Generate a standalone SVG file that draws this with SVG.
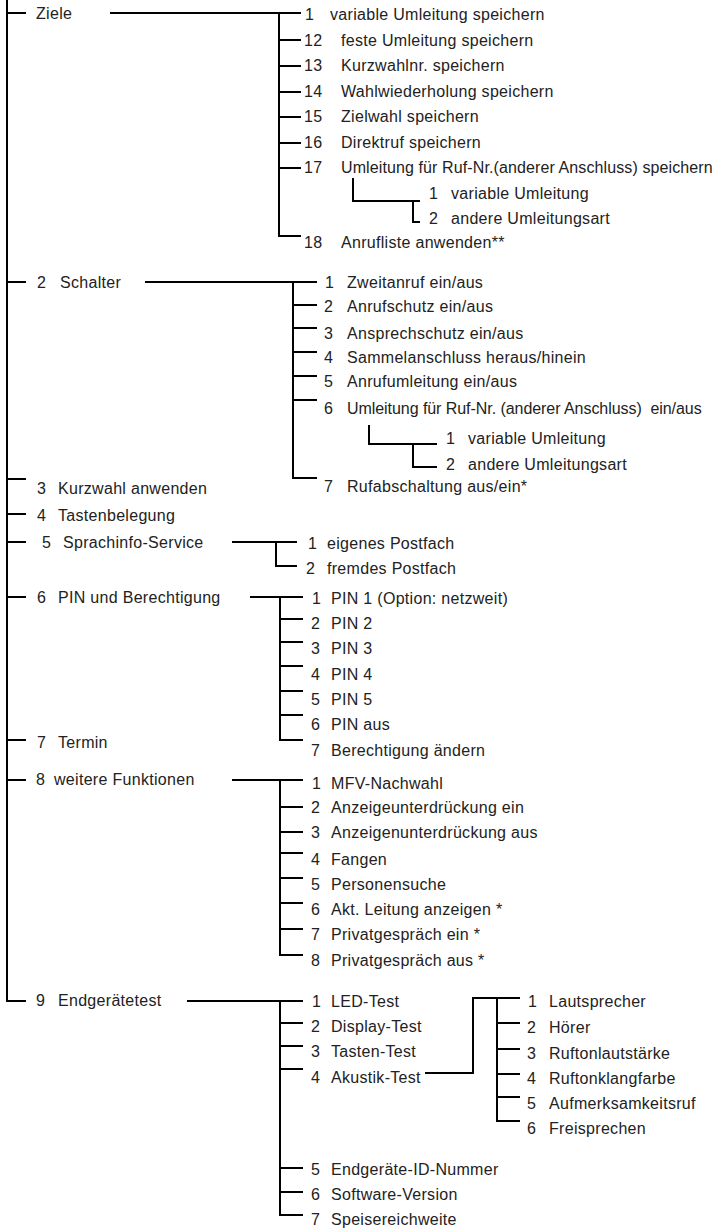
<svg xmlns="http://www.w3.org/2000/svg" width="726" height="1228" viewBox="0 0 726 1228">
<style>
text{font-family:"Liberation Sans",Arial,sans-serif;font-size:16px;letter-spacing:0.3px;fill:#222}
.c path{fill:none;stroke:#000;stroke-width:2;stroke-linejoin:miter}
</style>
<rect width="726" height="1228" fill="#fff"/>
<g class="c" id="connectors">
<path d="M7,0 V1001 H26 M7,13 H26 M7,282 H26 M7,479 H26 M7,514 H26 M7,542 H26 M7,597 H26 M7,740 H26 M7,780 H26"/>
<path d="M110,13 H301 M279,13 V236 H301 M279,40 H301 M279,66 H301 M279,92 H301 M279,117 H301 M279,143 H301 M279,168 H301"/>
<path d="M353,178 V201 H420 M413,201 V222 H420"/>
<path d="M145,282 H317 M293,282 V478 H317 M293,305 H317 M293,328 H317 M293,352 H317 M293,376 H317 M293,400 H317"/>
<path d="M369,425 V444 H437 M413,444 V467 H437"/>
<path d="M232,542 H297 M276,542 V566 H297"/>
<path d="M250,597 H303 M280,597 V740 H303 M280,619 H303 M280,642 H303 M280,666 H303 M280,691 H303 M280,715 H303"/>
<path d="M232,780 H303 M280,780 V955 H303 M280,807 H303 M280,832 H303 M280,853 H303 M280,878 H303 M280,903 H303 M280,929 H303"/>
<path d="M187,1001 H303 M280,1001 V1215 H303 M280,1023 H303 M280,1046 H303 M280,1069 H303 M280,1168 H303 M280,1192 H303"/>
<path d="M425,1073 H473 V998 H520 M497,998 V1121 H520 M497,1023 H520 M497,1049 H520 M497,1074 H520 M497,1097 H520"/>
</g>
<g id="n-ziele"><text x="36" y="18.5">Ziele</text></g>
<g id="n-ziele-1"><text x="305" y="19.5">1</text><text x="330" y="19.5">variable Umleitung speichern</text></g>
<g id="n-ziele-12"><text x="304" y="45.5">12</text><text x="341" y="45.5">feste Umleitung speichern</text></g>
<g id="n-ziele-13"><text x="304" y="71">13</text><text x="341" y="71">Kurzwahlnr. speichern</text></g>
<g id="n-ziele-14"><text x="304" y="96.5">14</text><text x="341" y="96.5">Wahlwiederholung speichern</text></g>
<g id="n-ziele-15"><text x="304" y="121.5">15</text><text x="341" y="121.5">Zielwahl speichern</text></g>
<g id="n-ziele-16"><text x="304" y="147.5">16</text><text x="341" y="147.5">Direktruf speichern</text></g>
<g id="n-ziele-17"><text x="304" y="173">17</text><text x="341" y="173" textLength="372" lengthAdjust="spacing">Umleitung für Ruf-Nr.(anderer Anschluss) speichern</text></g>
<g id="n-ziele-17-1"><text x="429" y="198.5">1</text><text x="451" y="198.5">variable Umleitung</text></g>
<g id="n-ziele-17-2"><text x="429" y="224">2</text><text x="451" y="224">andere Umleitungsart</text></g>
<g id="n-ziele-18"><text x="304" y="247.5">18</text><text x="341" y="247.5">Anrufliste anwenden**</text></g>

<g id="n-schalter"><text x="37" y="288">2</text><text x="60" y="288">Schalter</text></g>
<g id="n-schalter-1"><text x="325" y="288">1</text><text x="347" y="288">Zweitanruf ein/aus</text></g>
<g id="n-schalter-2"><text x="324" y="312">2</text><text x="347" y="312">Anrufschutz ein/aus</text></g>
<g id="n-schalter-3"><text x="324" y="339">3</text><text x="347" y="339">Ansprechschutz ein/aus</text></g>
<g id="n-schalter-4"><text x="324" y="363">4</text><text x="347" y="363">Sammelanschluss heraus/hinein</text></g>
<g id="n-schalter-5"><text x="324" y="387">5</text><text x="347" y="387">Anrufumleitung ein/aus</text></g>
<g id="n-schalter-6"><text x="324" y="414">6</text><text x="347" y="414" xml:space="preserve" textLength="355" lengthAdjust="spacing">Umleitung für Ruf-Nr. (anderer Anschluss)  ein/aus</text></g>
<g id="n-schalter-6-1"><text x="446" y="443.5">1</text><text x="468" y="443.5">variable Umleitung</text></g>
<g id="n-schalter-6-2"><text x="446" y="469.5">2</text><text x="468" y="469.5">andere Umleitungsart</text></g>
<g id="n-schalter-7"><text x="324" y="492">7</text><text x="347" y="492">Rufabschaltung aus/ein*</text></g>

<g id="n-kurzwahl"><text x="37" y="494">3</text><text x="58" y="494">Kurzwahl anwenden</text></g>
<g id="n-tasten"><text x="37" y="520.5">4</text><text x="58" y="520.5">Tastenbelegung</text></g>
<g id="n-sprach"><text x="42" y="548">5</text><text x="63" y="548">Sprachinfo-Service</text></g>
<g id="n-sprach-1"><text x="308" y="548.5">1</text><text x="327" y="548.5">eigenes Postfach</text></g>
<g id="n-sprach-2"><text x="306" y="573.5">2</text><text x="327" y="573.5">fremdes Postfach</text></g>

<g id="n-pin"><text x="37" y="603">6</text><text x="58" y="603">PIN und Berechtigung</text></g>
<g id="n-pin-1"><text x="312" y="604">1</text><text x="331" y="604">PIN 1 (Option: netzweit)</text></g>
<g id="n-pin-2"><text x="311" y="628.5">2</text><text x="331" y="628.5">PIN 2</text></g>
<g id="n-pin-3"><text x="311" y="653.5">3</text><text x="331" y="653.5">PIN 3</text></g>
<g id="n-pin-4"><text x="311" y="680">4</text><text x="331" y="680">PIN 4</text></g>
<g id="n-pin-5"><text x="311" y="705">5</text><text x="331" y="705">PIN 5</text></g>
<g id="n-pin-6"><text x="311" y="730">6</text><text x="331" y="730">PIN aus</text></g>
<g id="n-pin-7"><text x="311" y="756">7</text><text x="331" y="756">Berechtigung ändern</text></g>

<g id="n-termin"><text x="37" y="748">7</text><text x="58" y="748">Termin</text></g>
<g id="n-weitere"><text x="36" y="785">8</text><text x="54" y="785">weitere Funktionen</text></g>
<g id="n-weitere-1"><text x="312" y="788.5">1</text><text x="331" y="788.5">MFV-Nachwahl</text></g>
<g id="n-weitere-2"><text x="311" y="813">2</text><text x="331" y="813">Anzeigeunterdrückung ein</text></g>
<g id="n-weitere-3"><text x="311" y="837.5">3</text><text x="331" y="837.5">Anzeigenunterdrückung aus</text></g>
<g id="n-weitere-4"><text x="311" y="865">4</text><text x="331" y="865">Fangen</text></g>
<g id="n-weitere-5"><text x="311" y="889.5">5</text><text x="331" y="889.5">Personensuche</text></g>
<g id="n-weitere-6"><text x="311" y="915">6</text><text x="331" y="915">Akt. Leitung anzeigen *</text></g>
<g id="n-weitere-7"><text x="311" y="940">7</text><text x="331" y="940">Privatgespräch ein *</text></g>
<g id="n-weitere-8"><text x="311" y="966">8</text><text x="331" y="966">Privatgespräch aus *</text></g>

<g id="n-endgeraet"><text x="36" y="1006">9</text><text x="58" y="1006">Endgerätetest</text></g>
<g id="n-end-1"><text x="312" y="1007">1</text><text x="331" y="1007">LED-Test</text></g>
<g id="n-end-2"><text x="311" y="1032">2</text><text x="331" y="1032">Display-Test</text></g>
<g id="n-end-3"><text x="311" y="1057">3</text><text x="331" y="1057">Tasten-Test</text></g>
<g id="n-end-4"><text x="311" y="1082.5">4</text><text x="331" y="1082.5">Akustik-Test</text></g>
<g id="n-end-5"><text x="311" y="1175">5</text><text x="331" y="1175">Endgeräte-ID-Nummer</text></g>
<g id="n-end-6"><text x="311" y="1200">6</text><text x="331" y="1200">Software-Version</text></g>
<g id="n-end-7"><text x="311" y="1225">7</text><text x="331" y="1225">Speisereichweite</text></g>

<g id="n-akustik-1"><text x="528" y="1007">1</text><text x="549" y="1007">Lautsprecher</text></g>
<g id="n-akustik-2"><text x="527" y="1033">2</text><text x="549" y="1033">Hörer</text></g>
<g id="n-akustik-3"><text x="527" y="1058.5">3</text><text x="549" y="1058.5">Ruftonlautstärke</text></g>
<g id="n-akustik-4"><text x="527" y="1083.5">4</text><text x="549" y="1083.5">Ruftonklangfarbe</text></g>
<g id="n-akustik-5"><text x="527" y="1108.5">5</text><text x="549" y="1108.5">Aufmerksamkeitsruf</text></g>
<g id="n-akustik-6"><text x="527" y="1134">6</text><text x="549" y="1134">Freisprechen</text></g>
</svg>
